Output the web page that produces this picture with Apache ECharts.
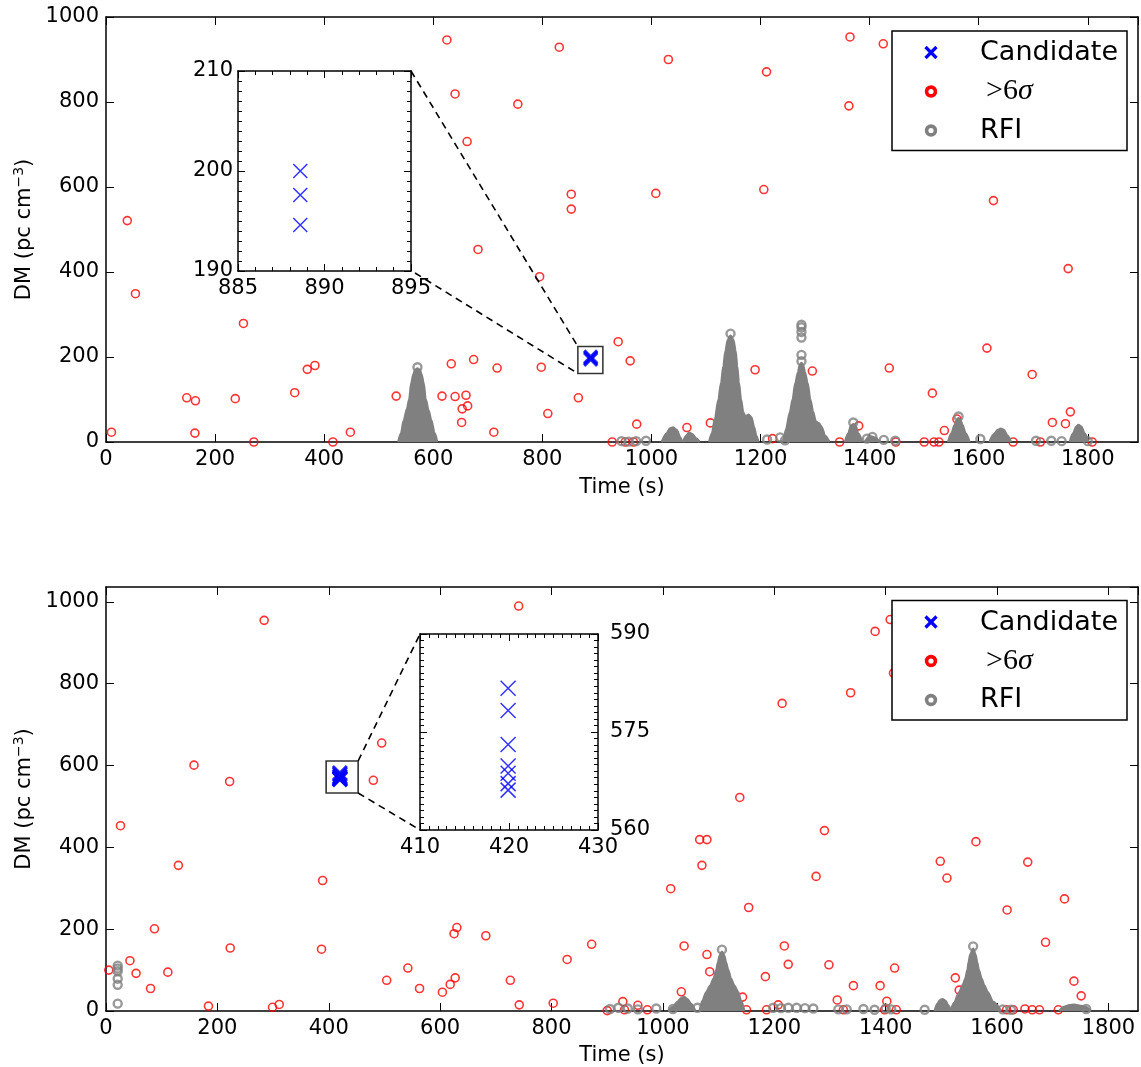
<!DOCTYPE html>
<html><head><meta charset="utf-8">
<script src="https://cdn.jsdelivr.net/npm/echarts@6.0.0/dist/echarts.min.js"></script>
<style>html,body{margin:0;padding:0;background:#fff}#c{width:1141px;height:1067px}</style>
</head><body><div id="c"></div>
<script>
// ---------------- DATA ----------------
// Top panel: >6 sigma events [time s, DM]
const topSigma = [[10,23],[39,521],[54,349],[148,104],[164,97],[163,21],[237,102],[252,279],[271,0],[346,116],[369,171],[383,180],[416,0],[448,23],[532,108],[616,108],[625,946],[633,184],[640,819],[640,107],[652,46],[653,78],[660,110],[663,85],[662,707],[674,194],[682,453],[711,23],[717,174],[755,795],[795,389],[798,176],[810,67],[831,929],[853,583],[853,548],[866,104],[928,0],[939,236],[952,0],[961,191],[967,0],[973,42],[1008,585],[1031,900],[1065,34],[1108,45],[1190,170],[1206,594],[1211,871],[1222,8],[1295,167],[1345,0],[1362,791],[1364,953],[1380,38],[1425,937],[1436,174],[1448,0],[1500,0],[1515,115],[1518,0],[1527,0],[1537,27],[1560,54],[1615,221],[1627,568],[1663,0],[1698,159],[1713,0],[1735,46],[1759,43],[1764,408],[1768,71],[1808,0]];
// Top panel: RFI isolated events
const topRfiPoints = [[571,176],[1145,255],[1275,190],[1275,205],[1275,246],[1275,259],[1275,270],[1275,276],[1370,46],[1563,60],[945,2],[958,1],[972,2],[990,3],[1212,6],[1236,11],[1245,4],[1395,8],[1405,12],[1426,5],[1447,3],[1603,7],[1705,3],[1733,3],[1752,2],[1800,2]];
// Top panel: RFI dense clusters (upper envelope of the cluster)
const topRfiCluster570 = [[536,0],[541,20],[546,50],[552,78],[556,100],[560,140],[564,160],[567,170],[571,173],[575,170],[578,160],[582,140],[586,100],[591,75],[596,52],[602,22],[607,0]];
const topRfiCluster1040 = [[1019,0],[1028,20],[1034,32],[1040,34],[1046,28],[1053,10],[1056,0]];
const topRfiCluster1069 = [[1058,0],[1064,15],[1069,22],[1075,18],[1082,8],[1088,0]];
const topRfiCluster1145 = [[1106,0],[1111,20],[1116,50],[1123,100],[1128,140],[1132,178],[1136,215],[1140,240],[1145,250],[1150,240],[1154,215],[1157,178],[1160,140],[1164,100],[1168,70],[1172,60],[1178,64],[1183,58],[1188,35],[1192,15],[1196,0]];
const topRfiCluster1275 = [[1242,0],[1247,30],[1254,70],[1259,100],[1264,139],[1269,165],[1272,180],[1275,186],[1278,180],[1281,165],[1286,139],[1291,100],[1296,72],[1301,48],[1307,44],[1312,35],[1318,15],[1326,0]];
const topRfiCluster1370 = [[1355,0],[1361,20],[1366,38],[1370,42],[1374,38],[1379,20],[1386,0]];
const topRfiCluster1403 = [[1392,0],[1397,10],[1403,13],[1410,10],[1418,0]];
const topRfiCluster1563 = [[1544,0],[1550,20],[1556,40],[1560,52],[1563,56],[1566,52],[1570,40],[1576,20],[1583,0]];
const topRfiCluster1640 = [[1620,0],[1628,18],[1635,28],[1640,31],[1646,28],[1652,16],[1659,0]];
const topRfiCluster1783 = [[1767,0],[1773,20],[1779,36],[1783,40],[1788,36],[1794,20],[1801,0]];
// Top panel: candidate
const topCandTime = [888.6, 888.6, 888.6];
const topCandDM = [200.0, 197.6, 194.6];
const topBoxCenter = [888, 193];
const topInsetX = [885, 895];
const topInsetY = [190, 210];

// Bottom panel
const botSigma = [[5,100],[26,453],[43,123],[54,92],[80,55],[87,201],[111,95],[130,356],[158,601],[184,12],[222,561],[223,154],[284,955],[299,9],[311,16],[387,151],[389,319],[480,564],[495,655],[504,75],[542,105],[563,55],[604,46],[618,65],[625,189],[627,81],[630,204],[682,184],[726,75],[741,990],[742,15],[803,19],[828,126],[872,163],[900,1],[928,23],[931,3],[955,14],[972,3],[1014,299],[1033,47],[1038,159],[1066,419],[1070,356],[1079,419],[1079,138],[1084,96],[1138,522],[1143,34],[1150,3],[1154,253],[1184,84],[1186,3],[1207,15],[1214,752],[1218,159],[1225,114],[1275,329],[1290,441],[1298,113],[1313,27],[1324,3],[1337,778],[1342,62],[1381,928],[1390,62],[1398,3],[1402,24],[1408,957],[1414,826],[1416,105],[1419,3],[1498,366],[1510,325],[1525,81],[1532,51],[1562,414],[1617,3],[1618,247],[1629,3],[1650,5],[1655,364],[1663,3],[1676,3],[1687,168],[1710,3],[1721,274],[1738,73],[1751,37]];
const botRfiPoints = [[21,111],[21,104],[21,97],[21,79],[21,64],[21,18],[1106,150],[1557,158],[905,5],[920,8],[937,6],[955,4],[988,6],[1018,5],[1062,8],[1198,8],[1212,7],[1225,8],[1240,8],[1255,7],[1270,6],[1315,4],[1330,4],[1360,5],[1380,3],[1400,6],[1410,4],[1470,3],[1610,4],[1625,3],[1760,5]];
const botRfiCluster1037 = [[1010,0],[1018,10],[1026,22],[1033,32],[1038,34],[1044,29],[1050,18],[1058,0]];
const botRfiCluster1106 = [[1066,0],[1071,25],[1078,46],[1085,62],[1091,79],[1096,100],[1099,119],[1102,135],[1106,145],[1110,135],[1113,119],[1117,100],[1122,79],[1128,62],[1135,46],[1140,25],[1146,0]];
const botRfiCluster1500 = [[1488,0],[1493,18],[1498,27],[1502,29],[1507,25],[1512,14],[1517,0]];
const botRfiCluster1557 = [[1517,0],[1523,20],[1532,46],[1539,65],[1543,79],[1547,100],[1549,119],[1552,138],[1557,152],[1561,138],[1564,119],[1567,100],[1572,79],[1577,62],[1583,46],[1593,22],[1607,0]];
const botRfiCluster1738 = [[1712,0],[1720,10],[1730,14],[1738,15],[1748,13],[1758,10],[1768,0]];
const botCandTime = [419.9, 419.9, 419.9, 419.9, 419.9, 419.9, 419.9];
const botCandDM = [581.7, 578.3, 573.1, 569.8, 568.7, 567.1, 566.1];
const botBoxCenter = [424, 572];
const botInsetX = [410, 430];
const botInsetY = [560, 590];

const topXRange = [0, 1892];
const topYRange = [0, 1000];
const botXRange = [0, 1853];
const botYRange = [0, 1036.5];

// ---------------- STYLE / BUILD ----------------
const FONT = 'DejaVu Sans';
const GRAY = '#808080';
const XPATH = 'path://M0,0L10,10M10,0L0,10';

function zip(t, d) { return t.map((v, i) => [v, d[i]]); }

function mkAxis(gridIndex, position, range, interval, showLabel, o) {
  o = o || {};
  const a = {
    type: 'value', gridIndex: gridIndex, position: position,
    min: range[0], max: range[1], interval: interval,
    z: o.z || 0,
    axisLine: { show: true, onZero: false, lineStyle: { color: '#000', width: 1.5 } },
    axisTick: { show: true, inside: true, length: o.tick || 8, lineStyle: { color: '#000', width: 1 } },
    minorTick: o.minor ? { show: true, splitNumber: o.minor, length: 4, lineStyle: { color: '#000', width: 1 } } : { show: false },
    splitLine: { show: false },
    minorSplitLine: { show: false },
    axisLabel: { show: showLabel, color: '#000', fontSize: 21, fontFamily: FONT,
      margin: o.margin != null ? o.margin : 7, formatter: function (v) { return String(v); } }
  };
  if (o.hideMax) a.axisLabel.showMaxLabel = false;
  if (o.name) {
    a.name = o.name; a.nameLocation = 'middle'; a.nameGap = o.nameGap;
    a.nameTextStyle = { color: '#000', fontSize: 21, fontFamily: FONT,
      rich: { sup: { fontSize: 14, fontFamily: FONT, color: '#000', verticalAlign: 'top', padding: [0, 0, 10, 0] } } };
    if (o.nameRotate != null) a.nameRotate = o.nameRotate;
  }
  return a;
}

const xAxes = [
  mkAxis(0, 'bottom', topXRange, 200, true, { hideMax: true, name: 'Time (s)', nameGap: 35 }),
  mkAxis(0, 'top', topXRange, 200, false, {}),
  mkAxis(1, 'bottom', botXRange, 200, true, { hideMax: true, name: 'Time (s)', nameGap: 34 }),
  mkAxis(1, 'top', botXRange, 200, false, {}),
  mkAxis(2, 'bottom', topInsetX, 5, true, { z: 10, tick: 7, minor: 5 }),
  mkAxis(2, 'top', topInsetX, 5, false, { z: 10, tick: 7, minor: 5 }),
  mkAxis(3, 'bottom', botInsetX, 10, true, { z: 10, tick: 7, minor: 10 }),
  mkAxis(3, 'top', botInsetX, 10, false, { z: 10, tick: 7, minor: 10 })
];
const yAxes = [
  mkAxis(0, 'left', topYRange, 200, true, { name: 'DM (pc cm{sup|\u22123})', nameGap: 61, nameRotate: 90 }),
  mkAxis(0, 'right', topYRange, 200, false, {}),
  mkAxis(1, 'left', botYRange, 200, true, { hideMax: true, name: 'DM (pc cm{sup|\u22123})', nameGap: 61, nameRotate: 90 }),
  mkAxis(1, 'right', botYRange, 200, false, {}),
  mkAxis(2, 'left', topInsetY, 10, true, { z: 10, tick: 7, minor: 10, margin: 5 }),
  mkAxis(2, 'right', topInsetY, 10, false, { z: 10, tick: 7, minor: 10 }),
  mkAxis(3, 'left', botInsetY, 15, false, { z: 10, tick: 7, minor: 15 }),
  mkAxis(3, 'right', botInsetY, 15, true, { z: 10, tick: 7, minor: 15, margin: 12 })
];

const grids = [
  { left: 106, top: 17, width: 1032, height: 425 },
  { left: 106, top: 587, width: 1032, height: 425 },
  { left: 238, top: 71, width: 173, height: 200, show: true, backgroundColor: '#fff', borderWidth: 0, z: 8 },
  { left: 420, top: 634, width: 178, height: 196, show: true, backgroundColor: '#fff', borderWidth: 0, z: 8 }
];

function sigmaSeries(data, ax) {
  return { type: 'scatter', name: '>6σ', xAxisIndex: ax, yAxisIndex: ax, data: data, z: 2,
    symbol: 'circle', symbolSize: 8, silent: true,
    itemStyle: { color: 'rgba(0,0,0,0)', borderColor: '#ff0000', borderWidth: 1.6 } };
}
function rfiPointSeries(data, ax) {
  return { type: 'scatter', name: 'RFI', xAxisIndex: ax, yAxisIndex: ax, data: data, z: 4,
    symbol: 'circle', symbolSize: 8, silent: true,
    itemStyle: { color: 'rgba(0,0,0,0)', borderColor: GRAY, borderWidth: 2.4 } };
}
function rfiClusterSeries(data, ax) {
  return { type: 'line', name: 'RFI', xAxisIndex: ax, yAxisIndex: ax, data: data, z: 3,
    symbol: 'none', smooth: 0.3, smoothMonotone: 'x', silent: true,
    lineStyle: { color: GRAY, width: 2.5 }, areaStyle: { color: GRAY, opacity: 1 } };
}
function candSeries(data, ax, size, bw, z) {
  return { type: 'scatter', name: 'Candidate', xAxisIndex: ax, yAxisIndex: ax, data: data, z: z,
    symbol: XPATH, symbolSize: size, silent: true,
    itemStyle: { color: 'rgba(0,0,0,0)', borderColor: '#0000ff', borderWidth: bw } };
}
function boxSeries(center, ax, size) {
  return { type: 'scatter', name: 'box', xAxisIndex: ax, yAxisIndex: ax, data: [center], z: 6,
    symbol: 'rect', symbolSize: size, silent: true,
    itemStyle: { color: 'rgba(0,0,0,0)', borderColor: '#000', borderWidth: 1.6 } };
}

const topClusters = [topRfiCluster570, topRfiCluster1040, topRfiCluster1069, topRfiCluster1145, topRfiCluster1275, topRfiCluster1370, topRfiCluster1403, topRfiCluster1563, topRfiCluster1640, topRfiCluster1783];
const botClusters = [botRfiCluster1037, botRfiCluster1106, botRfiCluster1500, botRfiCluster1557, botRfiCluster1738];

const series = [];
series.push(sigmaSeries(topSigma, 0));
topClusters.forEach(c => series.push(rfiClusterSeries(c, 0)));
series.push(rfiPointSeries(topRfiPoints, 0));
series.push(candSeries(zip(topCandTime, topCandDM), 0, 13, 3.2, 5));
series.push(boxSeries(topBoxCenter, 0, [25, 27]));
series.push(candSeries(zip(topCandTime, topCandDM), 2, 14, 1.5, 12));

series.push(sigmaSeries(botSigma, 1));
botClusters.forEach(c => series.push(rfiClusterSeries(c, 1)));
series.push(rfiPointSeries(botRfiPoints, 1));
series.push(candSeries(zip(botCandTime, botCandDM), 1, 14, 3, 5));
series.push(boxSeries(botBoxCenter, 1, [32, 32]));
series.push(candSeries(zip(botCandTime, botCandDM), 3, 15, 1.5, 12));

// map grid index -> axis indices (bottom/left axes of each grid)
const axisMap = { 0: [0, 0], 1: [2, 2], 2: [4, 4], 3: [6, 6] };
series.forEach(s => { const m = axisMap[s.xAxisIndex]; s.xAxisIndex = m[0]; s.yAxisIndex = m[1]; });

const option = {
  animation: false,
  backgroundColor: '#fff',
  grid: grids,
  xAxis: xAxes,
  yAxis: yAxes,
  series: series
};

const chart = echarts.init(document.getElementById('c'), null, { renderer: 'canvas' });
chart.setOption(option);

// ---------------- legend + connector lines ----------------
function legendGroup(x, y) {
  const txt = { fontSize: 27, fontFamily: FONT, fill: '#000', verticalAlign: 'middle', align: 'left' };
  return { type: 'group', x: x, y: y, z: 50, children: [
    { type: 'rect', z: 50, shape: { x: 0, y: 0, width: 235, height: 119.5 }, style: { fill: '#fff', stroke: '#000', lineWidth: 1.5 } },
    { type: 'line', z: 51, shape: { x1: 33.5, y1: 16, x2: 44.5, y2: 27 }, style: { stroke: '#0000ff', lineWidth: 3.2 } },
    { type: 'line', z: 51, shape: { x1: 44.5, y1: 16, x2: 33.5, y2: 27 }, style: { stroke: '#0000ff', lineWidth: 3.2 } },
    { type: 'circle', z: 51, shape: { cx: 39, cy: 60.5, r: 4.4 }, style: { fill: '#fff', stroke: '#ff0000', lineWidth: 3.6 } },
    { type: 'circle', z: 51, shape: { cx: 39, cy: 99.5, r: 4.4 }, style: { fill: '#fff', stroke: GRAY, lineWidth: 3.6 } },
    { type: 'text', z: 51, x: 88, y: 22, style: Object.assign({ text: 'Candidate' }, txt) },
    { type: 'text', z: 51, x: 94, y: 60.5, style: { text: '{a|>6}{b|σ}', verticalAlign: 'middle', align: 'left', fill: '#000',
        rich: { a: { fontFamily: 'Liberation Serif', fontSize: 30, fill: '#000' }, b: { fontFamily: 'Liberation Serif', fontStyle: 'italic', fontSize: 30, fill: '#000' } } } },
    { type: 'text', z: 51, x: 88, y: 99.5, style: Object.assign({ text: 'RFI' }, txt) }
  ] };
}

function dashed(p, q) {
  return { type: 'line', z: 20, shape: { x1: p[0], y1: p[1], x2: q[0], y2: q[1] },
    style: { stroke: '#000', lineWidth: 1.6, lineDash: [7, 5] } };
}

const tb = chart.convertToPixel({ xAxisIndex: 0, yAxisIndex: 0 }, topBoxCenter);
const tInsTR = chart.convertToPixel({ xAxisIndex: 4, yAxisIndex: 4 }, [topInsetX[1], topInsetY[1]]);
const tInsBR = chart.convertToPixel({ xAxisIndex: 4, yAxisIndex: 4 }, [topInsetX[1], topInsetY[0]]);
const bb = chart.convertToPixel({ xAxisIndex: 2, yAxisIndex: 2 }, botBoxCenter);
const bInsTL = chart.convertToPixel({ xAxisIndex: 6, yAxisIndex: 6 }, [botInsetX[0], botInsetY[1]]);
const bInsBL = chart.convertToPixel({ xAxisIndex: 6, yAxisIndex: 6 }, [botInsetX[0], botInsetY[0]]);

chart.setOption({ graphic: [
  dashed(tInsTR, [tb[0] - 12.5, tb[1] - 13.5]),
  dashed([tInsBR[0] + 4, tInsBR[1] + 2], [tb[0] - 12.5, tb[1] + 13.5]),
  dashed([bb[0] + 16, bb[1] - 16], bInsTL),
  dashed([bb[0] + 16, bb[1] + 16], bInsBL),
  legendGroup(892, 31),
  legendGroup(892, 600.5)
] });
</script></body></html>
